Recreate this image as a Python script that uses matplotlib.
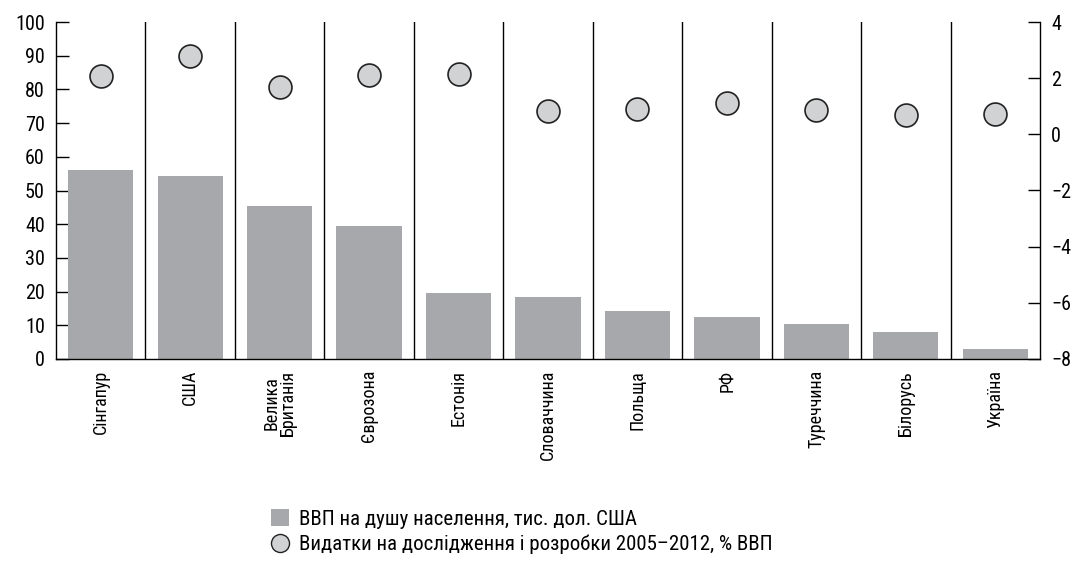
import matplotlib
matplotlib.use("Agg")
import matplotlib.pyplot as plt
from matplotlib.patches import Patch
from matplotlib.lines import Line2D
from matplotlib import font_manager

names = {f.name for f in font_manager.fontManager.ttflist}
fam = [n for n in ["Liberation Sans Narrow", "Roboto Condensed", "Roboto", "DejaVu Sans"] if n in names]
plt.rcParams['font.family'] = fam

categories = ["Сінгапур", "США", "Велика\nБританія", "Єврозона", "Естонія", "Словаччина",
              "Польща", "РФ", "Туреччина", "Білорусь", "Україна"]
gdp = [56.1, 54.3, 45.4, 39.5, 19.6, 18.4, 14.2, 12.5, 10.4, 8.0, 3.0]
rd = [2.08, 2.79, 1.69, 2.11, 2.15, 0.83, 0.90, 1.12, 0.87, 0.69, 0.72]
left_ticks = [0, 10, 20, 30, 40, 50, 60, 70, 80, 90, 100]
right_ticks = [-8, -6, -4, -2, 0, 2, 4]
label_gdp = "ВВП на душу населення, тис. дол. США"
label_rd = "Видатки на дослідження і розробки 2005–2012, % ВВП"

bar_color = "#a7a8ab"
dot_color = "#d1d2d4"

fig = plt.figure(figsize=(10.78, 5.61), dpi=100)
ax = fig.add_axes([56/1078, 1-359/561, (1040-56)/1078, (359-22)/561])
n = len(categories)
x = list(range(n))
ax.bar(x, gdp, width=0.73, color=bar_color, zorder=2)
ax.set_xlim(-0.5, n-0.5)
ax.set_ylim(0, 100)
ax.set_yticks(left_ticks)
for k in range(1, n):
    ax.axvline(k-0.5, color="black", lw=1.0, zorder=1)
for s in ["top", "right"]:
    ax.spines[s].set_visible(False)
ax.spines["left"].set_linewidth(1.0)
ax.spines["bottom"].set_linewidth(1.0)
ax.tick_params(axis="y", direction="in", length=9, width=1, labelsize=14.5, pad=8)
ax.set_xticks(x)
ax.set_xticklabels(categories, rotation=90, fontsize=13, va="top", ha="center", linespacing=0.9)
ax.tick_params(axis="x", length=0, pad=8)

ax2 = ax.twinx()
ax2.set_ylim(-8, 4)
ax2.set_yticks(right_ticks)
ax2.plot(x, rd, linestyle="none", marker="o", markersize=16.5, markerfacecolor=dot_color,
         markeredgecolor="#222222", markeredgewidth=1.2, zorder=3)
for s in ["top", "left", "bottom"]:
    ax2.spines[s].set_visible(False)
ax2.spines["right"].set_linewidth(1.0)
ax2.tick_params(axis="y", direction="in", length=9, width=1, labelsize=14.5, pad=8)

handles = [Patch(facecolor=bar_color, edgecolor="none"),
           Line2D([], [], linestyle="none", marker="o", markersize=13,
                  markerfacecolor=dot_color, markeredgecolor="#222222", markeredgewidth=1.0)]
fig.legend(handles, [label_gdp, label_rd], loc="upper left",
           bbox_to_anchor=(271/1078, 1-509/561), frameon=False, fontsize=15,
           handlelength=0.85, handleheight=0.85, handletextpad=0.5, labelspacing=0.3,
           borderaxespad=0, borderpad=0)

fig.savefig("out.png", dpi=100)
